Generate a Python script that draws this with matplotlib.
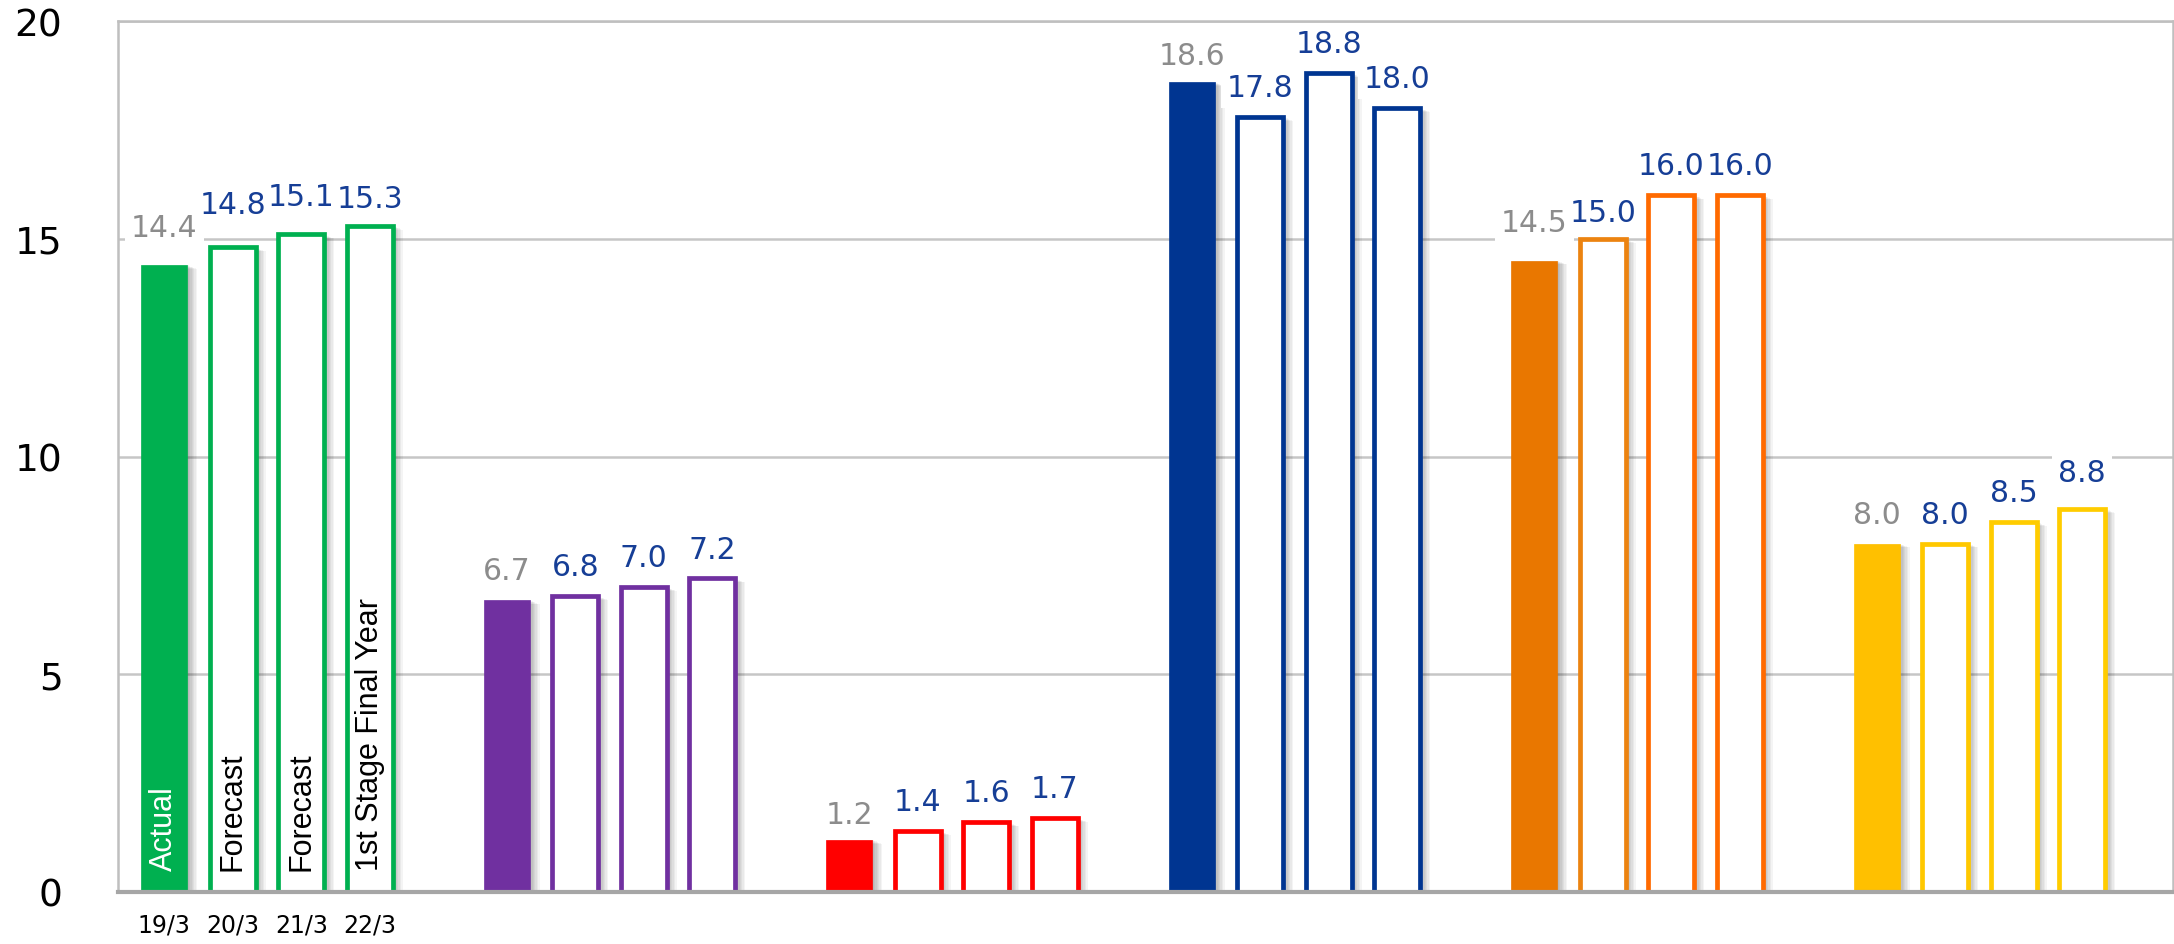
import matplotlib
matplotlib.use("Agg")
import matplotlib.pyplot as plt
import matplotlib.patheffects as pe
import numpy as np

# ---- data ----
groups = ["G1", "G2", "G3", "G4", "G5", "G6"]
period_labels = ["19/3", "20/3", "21/3", "22/3"]
bar_notes = ["Actual", "Forecast", "Forecast", "1st Stage Final Year"]
actual_19 = [14.4, 6.7, 1.2, 18.6, 14.5, 8.0]
forecast_20 = [14.8, 6.8, 1.4, 17.8, 15.0, 8.0]
forecast_21 = [15.1, 7.0, 1.6, 18.8, 16.0, 8.5]
final_22 = [15.3, 7.2, 1.7, 18.0, 16.0, 8.8]
yticks = [0, 5, 10, 15, 20]

# ---- styles ----
fill_colors = ["#00B050", "#7030A0", "#FF0000", "#003591", "#E97700", "#FFC000"]
edge_colors = [
    ["#00B050", "#00B050", "#00B050"],
    ["#7030A0", "#7030A0", "#7030A0"],
    ["#FF0000", "#FF0000", "#FF0000"],
    ["#003591", "#003591", "#003591"],
    ["#EC8310", "#FF6A00", "#FF6A00"],
    ["#FFC800", "#FFCC00", "#FFCC00"],
]
gray_lbl = "#8C8C8C"
blue_lbl = "#163E96"
grid_c = "#C6C6C6"
# label offset (points above bar top); some labels were nudged in the original
default_off = 15
label_off = {(0, 0): 21, (0, 1): 25, (0, 2): 21, (0, 3): 13.5,
             (4, 0): 21, (4, 1): 13, (3, 0): 13, (5, 3): 20, (2, 0): 12}

fig = plt.figure(figsize=(21.74, 9.45), dpi=100)
ax = fig.add_axes([118 / 2174, 52 / 945, (2173 - 118) / 2174, (893 - 22) / 945])
ax.set_xlim(0, 6)
ax.set_ylim(0, 20)

width = 0.135
first = 0.135
step = 0.2

shadow = [pe.SimplePatchShadow(offset=(d, -d * 0.4), shadow_rgbFace="k", alpha=0.045)
          for d in (1, 2, 3, 4, 5, 6, 7)] + [pe.Normal()]

series = [actual_19, forecast_20, forecast_21, final_22]
gx = np.arange(len(groups))
for s, vals in enumerate(series):
    xs = gx + first + step * s
    for g in range(len(groups)):
        if s == 0:
            b = ax.bar(xs[g], vals[g], width=width, color=fill_colors[g],
                       edgecolor=fill_colors[g], linewidth=0.5, zorder=3)
        else:
            b = ax.bar(xs[g], vals[g], width=width, color="white",
                       edgecolor=edge_colors[g][s - 1], linewidth=3.4, zorder=3)
        for p in b.patches:
            p.set_path_effects(shadow)
        off = label_off.get((g, s), default_off)
        txt = f"{vals[g]:.1f}"
        # white background box (drawn beneath all label texts)
        ax.annotate(txt, (xs[g], vals[g]), xytext=(0, off),
                    textcoords="offset points", ha="center", va="baseline",
                    fontsize=21.5, color="none", family="DejaVu Sans", zorder=4.5,
                    bbox=dict(boxstyle="square,pad=0.2", fc="white", ec="none"))
        ax.annotate(txt, (xs[g], vals[g]), xytext=(0, off),
                    textcoords="offset points", ha="center", va="baseline",
                    fontsize=21.5, color=gray_lbl if s == 0 else blue_lbl,
                    family="DejaVu Sans", zorder=5)

# rotated notes inside first group bars
for s, note in enumerate(bar_notes):
    ax.annotate(note, (first + step * s, 0), xytext=(0, 16), textcoords="offset points",
                rotation=90, ha="center", va="bottom", fontsize=22,
                family="Liberation Sans",
                color="white" if s == 0 else "black", zorder=6)

# axes styling
ax.set_yticks(yticks)
ax.set_yticklabels([str(v) for v in yticks], fontsize=27, family="DejaVu Sans")
ax.tick_params(axis="y", length=0, pad=40)
ax.set_xticks([first + step * s for s in range(4)])
ax.set_xticklabels(period_labels, fontsize=17, family="DejaVu Sans")
ax.tick_params(axis="x", length=0, pad=15)

ax.grid(axis="y", color=grid_c, linewidth=1.8, zorder=0)
ax.set_axisbelow(True)
for side in ["left", "top", "right"]:
    ax.spines[side].set_color("#BFBFBF")
    ax.spines[side].set_linewidth(1.8)
ax.spines["bottom"].set_color("#A6A6A6")
ax.spines["bottom"].set_linewidth(3)
ax.spines["bottom"].set_zorder(4)

fig.savefig("out.png", dpi=100)
